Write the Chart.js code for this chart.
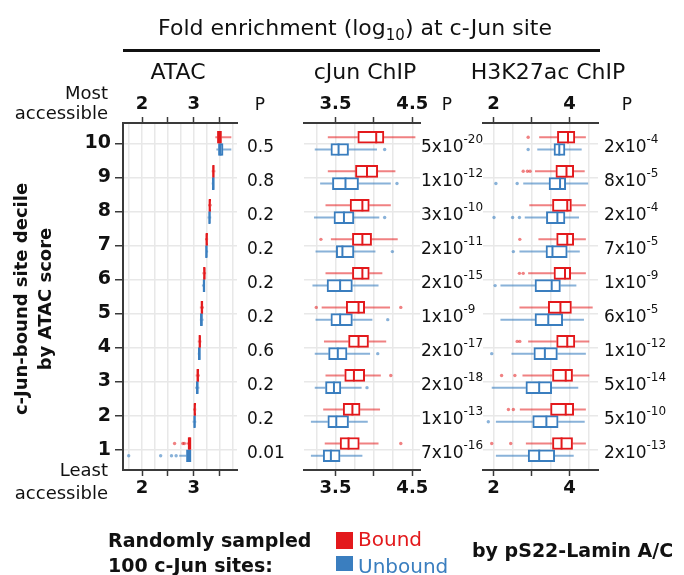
<!DOCTYPE html>
<html>
<head>
<meta charset="utf-8">
<script src="https://cdn.jsdelivr.net/npm/chart.js@4.4.1/dist/chart.umd.min.js"></script>
<style>
  body { margin: 0; background: #fff; }
  #page { position: relative; width: 684px; height: 575px; overflow: hidden; font-family: "DejaVu Sans", sans-serif; color: #111; }
  #page canvas { position: absolute; left: 0; top: 0; }
  .t { position: absolute; white-space: nowrap; line-height: 1; }
  .t sub { font-size: 15px; vertical-align: -5px; line-height: 0; }
  .sq { position: absolute; width: 17px; }
</style>
</head>
<body>
<div id="page">
  <canvas id="atac" width="684" height="575"></canvas>
  <canvas id="cjun" width="684" height="575"></canvas>
  <canvas id="h3k" width="684" height="575"></canvas>

  <div class="t" style="left:0;width:710px;text-align:center;top:17px;font-size:22px">Fold enrichment (log<sub>10</sub>) at c-Jun site</div>
  <div style="position:absolute;left:123px;top:49px;width:477px;height:3px;background:#111"></div>
  <div class="t" style="left:128px;width:100px;text-align:center;top:61px;font-size:22px">ATAC</div>
  <div class="t" style="left:295px;width:140px;text-align:center;top:61px;font-size:22px">cJun ChIP</div>
  <div class="t" style="left:468px;width:160px;text-align:center;top:61px;font-size:22px">H3K27ac ChIP</div>

  <div class="t" style="right:576px;text-align:right;top:84px;font-size:18px">Most</div>
  <div class="t" style="right:576px;text-align:right;top:104px;font-size:18px">accessible</div>
  <div class="t" style="right:576px;text-align:right;top:461px;font-size:18px">Least</div>
  <div class="t" style="right:576px;text-align:right;top:484px;font-size:18px">accessible</div>

  <div class="t" style="left:-127px;top:275px;width:320px;height:48px;text-align:center;font-size:18px;font-weight:bold;line-height:24px;transform:rotate(-90deg)">c-Jun-bound site decile<br>by ATAC score</div>

  <div class="t" style="left:108px;top:531px;font-size:19px;font-weight:bold">Randomly sampled</div>
  <div class="t" style="left:108px;top:556px;font-size:19px;font-weight:bold">100 c-Jun sites:</div>
  <div class="sq" style="left:336px;top:532px;height:17px;background:#e3191c"></div>
  <div class="sq" style="left:336px;top:556px;height:15px;background:#3a7ebf"></div>
  <div class="t" style="left:358px;top:529px;font-size:20px;color:#e3191c">Bound</div>
  <div class="t" style="left:358px;top:556px;font-size:20px;color:#3a7ebf">Unbound</div>
  <div class="t" style="left:472px;top:541px;font-size:19px;font-weight:bold">by pS22-Lamin A/C</div>
</div>

<script>
const FONT = '"DejaVu Sans", sans-serif';
Chart.defaults.font.family = FONT;
Chart.defaults.color = '#111';

const RED = '#e3191c', RED_L = 'rgba(227,25,28,0.55)';
const BLUE = '#3a7ebf', BLUE_L = 'rgba(58,126,191,0.6)';
const AXIS = '#3a3a3a', GRID = '#e8e8e8';
const OFF = 0.18;

const deciles = [10, 9, 8, 7, 6, 5, 4, 3, 2, 1];

// [min, q1, median, q3, max] per decile, 10 (top) to 1 (bottom)
const atacBound = [
  [3.42, 3.46, 3.50, 3.54, 3.73], [3.35, 3.37, 3.38, 3.40, 3.42], [3.28, 3.30, 3.31, 3.33, 3.35],
  [3.22, 3.24, 3.25, 3.27, 3.28], [3.17, 3.19, 3.21, 3.22, 3.24], [3.12, 3.14, 3.16, 3.18, 3.20],
  [3.08, 3.10, 3.12, 3.13, 3.15], [3.04, 3.06, 3.08, 3.10, 3.12], [2.99, 3.01, 3.02, 3.04, 3.05],
  [2.86, 2.89, 2.92, 2.95, 2.96]
];
const atacUnbound = [
  [3.44, 3.48, 3.52, 3.57, 3.73], [3.35, 3.36, 3.38, 3.40, 3.41], [3.27, 3.29, 3.31, 3.32, 3.34],
  [3.22, 3.23, 3.25, 3.26, 3.28], [3.16, 3.18, 3.20, 3.22, 3.23], [3.12, 3.13, 3.15, 3.17, 3.19],
  [3.08, 3.09, 3.11, 3.13, 3.14], [3.03, 3.05, 3.07, 3.09, 3.11], [2.98, 3.00, 3.02, 3.03, 3.05],
  [2.72, 2.86, 2.91, 2.95, 2.96]
];
const atacBoundOut = [[], [], [], [], [], [], [], [], [], [2.63, 2.79, 2.82]];
const atacUnboundOut = [[], [], [], [], [], [], [], [], [], [1.74, 2.36, 2.57, 2.66]];
const atacP = ['0.5', '0.8', '0.2', '0.2', '0.2', '0.2', '0.6', '0.2', '0.2', '0.01'];
const atacLabels = [2, 3];

const cjunBound = [
  [3.40, 3.79, 4.03, 4.13, 4.54], [3.40, 3.76, 3.91, 4.05, 4.28], [3.37, 3.69, 3.85, 3.94, 4.22],
  [3.44, 3.72, 3.85, 3.97, 4.31], [3.37, 3.72, 3.85, 3.94, 4.11], [3.32, 3.64, 3.80, 3.88, 4.21],
  [3.35, 3.67, 3.80, 3.93, 4.16], [3.37, 3.62, 3.74, 3.88, 4.09], [3.34, 3.60, 3.72, 3.82, 4.08],
  [3.36, 3.56, 3.67, 3.81, 4.06]
];
const cjunUnbound = [
  [3.23, 3.44, 3.54, 3.67, 4.04], [3.30, 3.46, 3.63, 3.80, 4.22], [3.22, 3.48, 3.61, 3.74, 4.07],
  [3.24, 3.51, 3.59, 3.74, 4.02], [3.20, 3.39, 3.56, 3.72, 4.06], [3.24, 3.44, 3.56, 3.72, 3.98],
  [3.23, 3.41, 3.53, 3.65, 3.95], [3.23, 3.37, 3.48, 3.57, 3.84], [3.18, 3.40, 3.51, 3.67, 3.92],
  [3.18, 3.34, 3.44, 3.56, 3.85]
];
const cjunBoundOut = [[], [], [], [3.31], [], [3.25, 4.35], [], [4.22], [], [4.35]];
const cjunUnboundOut = [[4.14], [4.30], [4.14], [4.24], [], [4.18], [4.05], [3.91], [], []];
const cjunP = ['5x10^-20', '1x10^-12', '3x10^-10', '2x10^-11', '2x10^-15',
               '1x10^-9', '2x10^-17', '2x10^-18', '1x10^-13', '7x10^-16'];
const cjunLabels = [3.5, 4.5];

const h3kBound = [
  [3.20, 3.68, 3.96, 4.14, 4.43], [3.09, 3.64, 3.92, 4.11, 4.40], [2.94, 3.55, 3.94, 4.05, 4.43],
  [3.18, 3.66, 3.94, 4.11, 4.43], [2.91, 3.59, 3.88, 4.03, 4.43], [2.68, 3.44, 3.76, 4.05, 4.61],
  [2.91, 3.66, 3.94, 4.14, 4.52], [2.76, 3.55, 3.90, 4.08, 4.52], [2.69, 3.50, 3.90, 4.11, 4.43],
  [2.85, 3.55, 3.79, 4.08, 4.43]
];
const h3kUnbound = [
  [3.15, 3.59, 3.73, 3.88, 4.32], [2.78, 3.46, 3.75, 3.90, 4.49], [2.82, 3.39, 3.68, 3.88, 4.25],
  [2.68, 3.38, 3.55, 3.94, 4.27], [2.18, 3.09, 3.53, 3.76, 4.18], [2.18, 3.09, 3.44, 3.82, 4.38],
  [2.47, 3.06, 3.35, 3.68, 4.43], [1.95, 2.85, 3.20, 3.53, 4.23], [2.06, 3.03, 3.39, 3.70, 4.40],
  [2.06, 2.91, 3.20, 3.61, 4.11]
];
const h3kBoundOut = [[2.91], [2.78, 2.89, 2.96], [], [2.69], [2.68, 2.78], [], [2.62, 2.69],
                     [2.21, 2.56], [2.39, 2.52], [1.95, 2.45]];
const h3kUnboundOut = [[2.91], [2.06, 2.62], [2.01, 2.50, 2.68], [2.52], [2.04], [], [1.95],
                       [], [1.86], []];
const h3kP = ['2x10^-4', '8x10^-5', '2x10^-4', '7x10^-5', '1x10^-9',
              '6x10^-5', '1x10^-12', '5x10^-14', '5x10^-10', '2x10^-13'];
const h3kLabels = [2, 4];

// P-value column drawn to the right of each panel, rows placed by the y scale
const pColumn = {
  id: 'pColumn',
  afterDraw(chart, args, o) {
    const { ctx, chartArea, scales } = chart;
    ctx.save();
    ctx.fillStyle = '#111';
    ctx.textBaseline = 'middle';
    ctx.textAlign = 'center';
    ctx.font = '17px ' + FONT;
    ctx.fillText('P', chartArea.right + o.headX, chartArea.top - 17);
    ctx.textAlign = 'left';
    o.values.forEach((v, i) => {
      const y = scales.y.getPixelForValue(deciles[i]) + 4;
      const [base, exp] = v.split('^');
      let x = chartArea.right + o.gap;
      ctx.font = o.size + 'px ' + FONT;
      ctx.fillText(base, x, y);
      if (exp) {
        x += ctx.measureText(base).width;
        ctx.font = '12px ' + FONT;
        ctx.fillText(exp, x, y - 8);
      }
    });
    ctx.restore();
  }
};

const gap = () => ({ x: null, y: null });

function makePanel(id, c) {
  const datasets = [];
  [
    { stats: c.bound, out: c.boundOut, color: RED, light: RED_L, dy: OFF },
    { stats: c.unbound, out: c.unboundOut, color: BLUE, light: BLUE_L, dy: -OFF }
  ].forEach(g => {
    const whisk = [], pts = [];
    g.stats.forEach((s, i) => {
      const y = deciles[i] + g.dy;
      whisk.push({ x: s[0], y }, { x: s[1], y }, gap(), { x: s[3], y }, { x: s[4], y }, gap());
      g.out[i].forEach(v => pts.push({ x: v, y }));
    });
    datasets.push(
      { type: 'line', data: whisk, borderColor: g.light, borderWidth: 2, pointRadius: 0,
        spanGaps: false, fill: false, tension: 0, order: 4 },
      { type: 'bar', indexAxis: 'y', data: g.stats.map((s, i) => ({ x: [s[1], s[3]], y: deciles[i] + g.dy })),
        backgroundColor: '#fff', borderColor: g.color, borderWidth: 2, borderSkipped: false,
        barThickness: 12, grouped: false, order: 3 },
      // medians as vertical line markers
      { type: 'scatter', data: g.stats.map((s, i) => ({ x: s[2], y: deciles[i] + g.dy })),
        pointStyle: 'line', pointRotation: 90, pointRadius: 6, pointBorderColor: g.color,
        pointBorderWidth: 2, order: 2 },
      { type: 'scatter', data: pts, backgroundColor: g.light, borderWidth: 0, pointRadius: 1.7, order: 1 }
    );
  });

  const lbl = v => c.labels.some(l => Math.abs(l - v) < 1e-6) ? String(v) : '';
  const edge = pos => ({
    type: 'linear', position: pos, min: c.min, max: c.max,
    ticks: { stepSize: c.tickStep, includeBounds: false, callback: lbl, autoSkip: false, maxRotation: 0,
             font: { size: 18, weight: 'bold' }, color: '#111', padding: 2 },
    grid: { drawOnChartArea: false, tickLength: 6, tickColor: AXIS, tickWidth: 1.5 },
    border: { color: AXIS, width: 2 },
    afterFit: s => { s.height = 30; }
  });
  const yAxis = c.showY ? {
    ticks: { stepSize: 1, includeBounds: false, font: { size: 19, weight: 'bold' }, color: '#111', padding: 4 },
    grid: { color: GRID, lineWidth: 1.5, tickLength: 8, tickColor: AXIS, tickWidth: 1.5, offset: false },
    border: { color: AXIS, width: 2 },
    afterFit: s => { s.width = 40; }
  } : {
    ticks: { stepSize: 1, includeBounds: false, display: false },
    grid: { color: GRID, lineWidth: 1.5, drawTicks: false, offset: false },
    border: { display: false },
    afterFit: s => { s.width = 0; }
  };

  new Chart(document.getElementById(id), {
    type: 'line',
    data: { datasets },
    plugins: [pColumn],
    options: {
      responsive: false, animation: false,
      layout: { padding: { left: c.left - (c.showY ? 40 : 0), right: 684 - c.right, top: 93, bottom: 75 } },
      plugins: { legend: { display: false }, tooltip: { enabled: false },
                 pColumn: { values: c.p, headX: c.headX, gap: c.gap, size: c.pSize } },
      scales: {
        x: edge('top'),
        x2: edge('bottom'),
        xg: { type: 'linear', position: 'bottom', min: c.min, max: c.max,
              ticks: { display: false, stepSize: c.gridStep, includeBounds: false },
              grid: { color: GRID, lineWidth: 1.5, drawTicks: false },
              border: { display: false }, afterFit: s => { s.height = 0; } },
        y: Object.assign({ type: 'linear', min: 0.4, max: 10.6, offset: false }, yAxis)
      }
    }
  });
}

makePanel('atac', { bound: atacBound, unbound: atacUnbound, boundOut: atacBoundOut, unboundOut: atacUnboundOut,
  p: atacP, labels: atacLabels, min: 1.63, max: 3.84, tickStep: 0.5, gridStep: 0.25,
  left: 123, right: 237, showY: true, headX: 23, gap: 10, pSize: 17 });
makePanel('cjun', { bound: cjunBound, unbound: cjunUnbound, boundOut: cjunBoundOut, unboundOut: cjunUnboundOut,
  p: cjunP, labels: cjunLabels, min: 3.09, max: 4.6, tickStep: 0.5, gridStep: 0.25,
  left: 304, right: 420, showY: false, headX: 27, gap: 1, pSize: 17 });
makePanel('h3k', { bound: h3kBound, unbound: h3kUnbound, boundOut: h3kBoundOut, unboundOut: h3kUnboundOut,
  p: h3kP, labels: h3kLabels, min: 1.72, max: 4.75, tickStep: 1, gridStep: 0.5,
  left: 483, right: 598, showY: false, headX: 29, gap: 6, pSize: 17 });
</script>
</body>
</html>
